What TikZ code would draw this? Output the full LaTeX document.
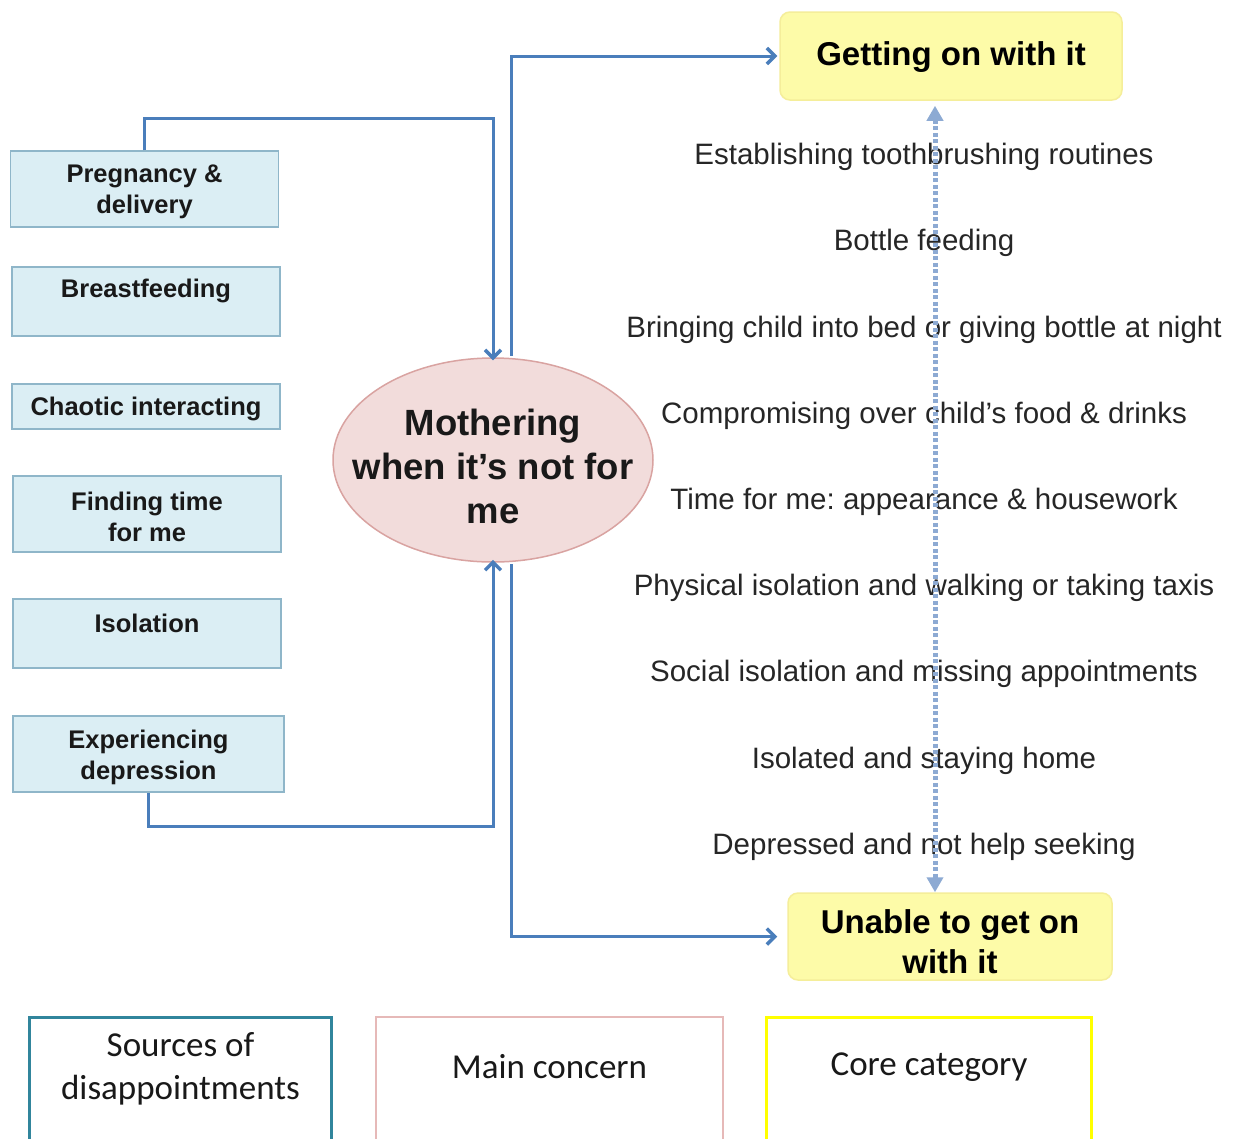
\documentclass[tikz,border=0pt]{standalone}
\usepackage{fontspec}
\setmainfont{Liberation Sans}
\newfontfamily\legendfont{Carlito}
\usetikzlibrary{arrows.meta,positioning,shapes.geometric}
\frenchspacing
\definecolor{boxfill}{HTML}{DBEEF4}
\definecolor{boxline}{HTML}{8FB6C9}
\definecolor{ellfill}{HTML}{F2DCDB}
\definecolor{ellline}{HTML}{D9A3A1}
\definecolor{corefill}{HTML}{FDFBA8}
\definecolor{coreline}{HTML}{F5EE9A}
\definecolor{conblue}{HTML}{4A7EBB}
\definecolor{dotblue}{HTML}{8DAAD3}
\definecolor{legteal}{HTML}{31859C}
\definecolor{legpink}{HTML}{E6B9B8}
\definecolor{legyellow}{HTML}{FFFF00}
\tikzset{
  srcbox/.style={draw=boxline, line width=1.5pt, fill=boxfill, minimum width=268pt, inner sep=0pt,
    font=\fontsize{25.5}{31}\selectfont\bfseries, align=center, text=black!90},
  srctxt/.style={font=\fontsize{25.5}{31}\selectfont\bfseries, align=center, text=black!90, anchor=center},
  corebox/.style={draw=coreline, line width=1.5pt, fill=corefill, rounded corners=10pt, inner sep=0pt,
    font=\fontsize{33}{40}\selectfont\bfseries, align=center},
  coretxt/.style={font=\fontsize{33}{40}\selectfont\bfseries, align=center, anchor=center, text=black},
  item/.style={font=\fontsize{29.5}{34}\selectfont\frenchspacing, text=black!85, inner sep=0pt},
  conn/.style={draw=conblue, line width=3pt, -{Straight Barb[length=8pt,width=16pt,line width=3.5pt]}},
  dotconn/.style={draw=dotblue, line width=5pt, dash pattern=on 4pt off 2.5pt,
    {Triangle[length=15pt,width=16pt]}-{Triangle[length=15pt,width=16pt]}},
  legbox/.style={fill=white, minimum height=140pt, inner sep=0pt, anchor=north west},
  legtxt/.style={font=\legendfont\fontsize{35}{43}\selectfont, align=center, anchor=center, text=black!90},
}
\begin{document}
\begin{tikzpicture}[x=1pt,y=-1pt]
\useasboundingbox (0,0) rectangle (1234,1138);
\clip (0,0) rectangle (1234,1138);
\fill[white] (0,0) rectangle (1234,1138);

% source boxes
\node[srcbox, minimum height=76pt, label={[srctxt,yshift=-3pt]center:{Pregnancy \&\\delivery}}] (preg) at (144.5,189) {};
\node[srcbox, minimum height=69pt, label={[srctxt,yshift=-25pt]north:Breastfeeding}] (breast) at (146,301.5) {};
\node[srcbox, minimum height=45pt, label={[srctxt,yshift=-2pt]center:Chaotic interacting}] (chaos) at (146,406.5) {};
\node[srcbox, minimum height=76pt, label={[srctxt,yshift=-3pt]center:{Finding time\\for me}}] (time) at (147,514) {};
\node[srcbox, minimum height=69pt, label={[srctxt,yshift=-25pt]north:Isolation}] (isol) at (147,633.5) {};
\node[srcbox, minimum height=76pt, minimum width=271pt, label={[srctxt,yshift=-3pt]center:{Experiencing\\depression}}] (dep) at (148.5,754) {};

% main concern
\node[ellipse, draw=ellline, line width=1.5pt, fill=ellfill, minimum width=320pt, minimum height=204pt, inner sep=0pt,
  label={[anchor=center, yshift=-6pt, font=\fontsize{36.5}{44}\selectfont\bfseries, align=center, text=black!90]center:{Mothering\\when it’s not for\\me}}] (moth) at (493,460) {};

% core category
\node[corebox, minimum width=342pt, minimum height=88pt, label={[coretxt,yshift=-1pt]center:Getting on with it}] (get) at (951,56) {};
\node[corebox, minimum width=324pt, minimum height=87pt, label={[coretxt,yshift=-5pt]center:{Unable to get on\\with it}}] (unable) at (950,936.5) {};

% items
\node[item] (i1) at (924,157) {Establishing toothbrushing routines};
\node[item] (i2) at (924,243) {Bottle feeding};
\node[item] (i3) at (924,330) {Bringing child into bed or giving bottle at night};
\node[item] (i4) at (924,416) {Compromising over child’s food \& drinks};
\node[item] (i5) at (924,502) {Time for me: appearance \& housework};
\node[item] (i6) at (924,588) {Physical isolation and walking or taking taxis};
\node[item] (i7) at (924,674) {Social isolation and missing appointments};
\node[item] (i8) at (924,761) {Isolated and staying home};
\node[item] (i9) at (924,847) {Depressed and not help seeking};

% connectors
\draw[conn] (preg.north) -- ++(0,-32) -| ([yshift=-3pt]moth.north);
\draw[conn] (dep.south) -- ++(0,34) -| ([yshift=3pt]moth.south);
\draw[conn] ([xshift=18pt,yshift=1.5pt]moth.north) |- ([xshift=-2pt]get.west);
\draw[conn] ([xshift=18pt,yshift=-1.5pt]moth.south) |- ([xshift=-10pt]unable.west);
\draw[dotconn] ([xshift=-16pt,yshift=-5pt]get.south) -- ([xshift=-15pt]unable.north);

% legend
\node[legbox, draw=legteal, line width=3pt, minimum width=302pt,
  label={[legtxt,yshift=-53pt]north:{Sources of\\disappointments}}] (leg1) at (28,1016) {};
\node[legbox, draw=legpink, line width=2pt, minimum width=347pt,
  label={[legtxt,yshift=-51pt]north:Main concern}] (leg2) at (375,1016) {};
\node[legbox, draw=legyellow, line width=3pt, minimum width=325pt,
  label={[legtxt,yshift=-51pt]north:Core category}] (leg3) at (765,1016) {};
\end{tikzpicture}
\end{document}
